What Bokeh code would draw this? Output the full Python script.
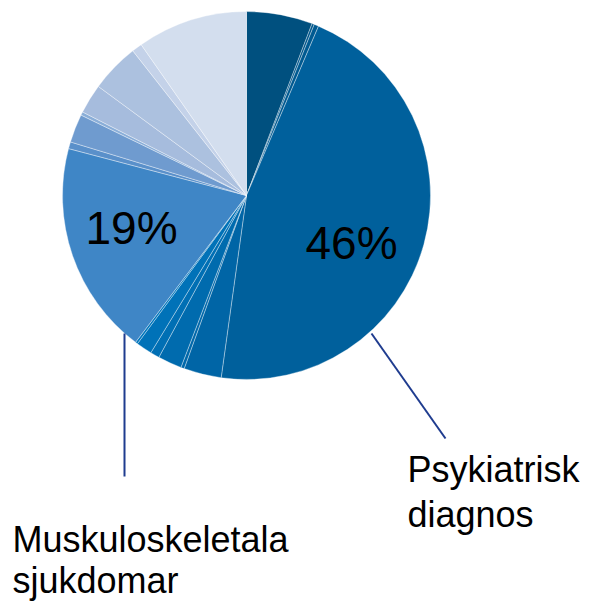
import numpy as np
from bokeh.plotting import figure
from bokeh.models import Range1d, ColumnDataSource
from bokeh.core.properties import value
from bokeh.embed import file_html
from bokeh.resources import INLINE

# Slice shares (%), clockwise from 12 o'clock
shares = [5.8, 0.2, 0.4, 45.8, 3.3, 0.3, 2.1, 0.8, 1.4, 0.2,
          18.8, 0.6, 2.5, 0.3, 2.6, 4.3, 0.9, 9.7]
colors = ["#00507f", "#00568a", "#005a91", "#00609c", "#0065a6", "#0068aa",
          "#006bae", "#006fb4", "#0072b8", "#0077bd", "#3f86c6", "#5a90ca",
          "#6f9bcf", "#8aaed8", "#a6bcdd", "#acc1df", "#c4d2e9", "#d3deee"]
pct_labels = ["46%", "19%"]
cat_labels = [["Psykiatrisk", "diagnos"], ["Muskuloskeletala", "sjukdomar"]]

W, H = 589, 604
p = figure(width=W, height=H, output_backend="svg", toolbar_location=None,
           x_range=Range1d(0, W), y_range=Range1d(-H, 0),
           min_border=0)
p.axis.visible = False
p.grid.visible = False
p.outline_line_color = None
p.background_fill_color = "white"

cx, cy, r = 246, -195, 184
cum = np.cumsum([0] + shares) / 100.0 * 2 * np.pi
start_cw = cum[:-1]
end_cw = cum[1:]
src = ColumnDataSource(dict(start=np.pi / 2 - end_cw, end=np.pi / 2 - start_cw,
                            color=colors))
p.wedge(x=cx, y=cy, radius=r, start_angle="start", end_angle="end",
        fill_color="color", line_color="white", line_width=0.6, line_alpha=0.6,
        source=src)

font = value("Liberation Sans")
# percentage labels
p.text(x=[305, 85], y=[-242, -227], text=pct_labels, text_font=font,
       text_font_size="46px", text_color="black", text_baseline="alphabetic",
       text_align="left")

# leader lines
p.segment(x0=[371, 124], y0=[-333, -333], x1=[445, 124], y1=[-438, -476],
          line_color="#1f3c8f", line_width=2)

# category labels
p.text(x=[407, 407], y=[-469, -514], text=cat_labels[0], text_font=font,
       text_font_size="36px", text_color="black", text_baseline="alphabetic")
p.text(x=[12, 12], y=[-539, -580], text=cat_labels[1], text_font=font,
       text_font_size="36px", text_color="black", text_baseline="alphabetic")

open("out.html", "w").write(file_html(p, INLINE))
